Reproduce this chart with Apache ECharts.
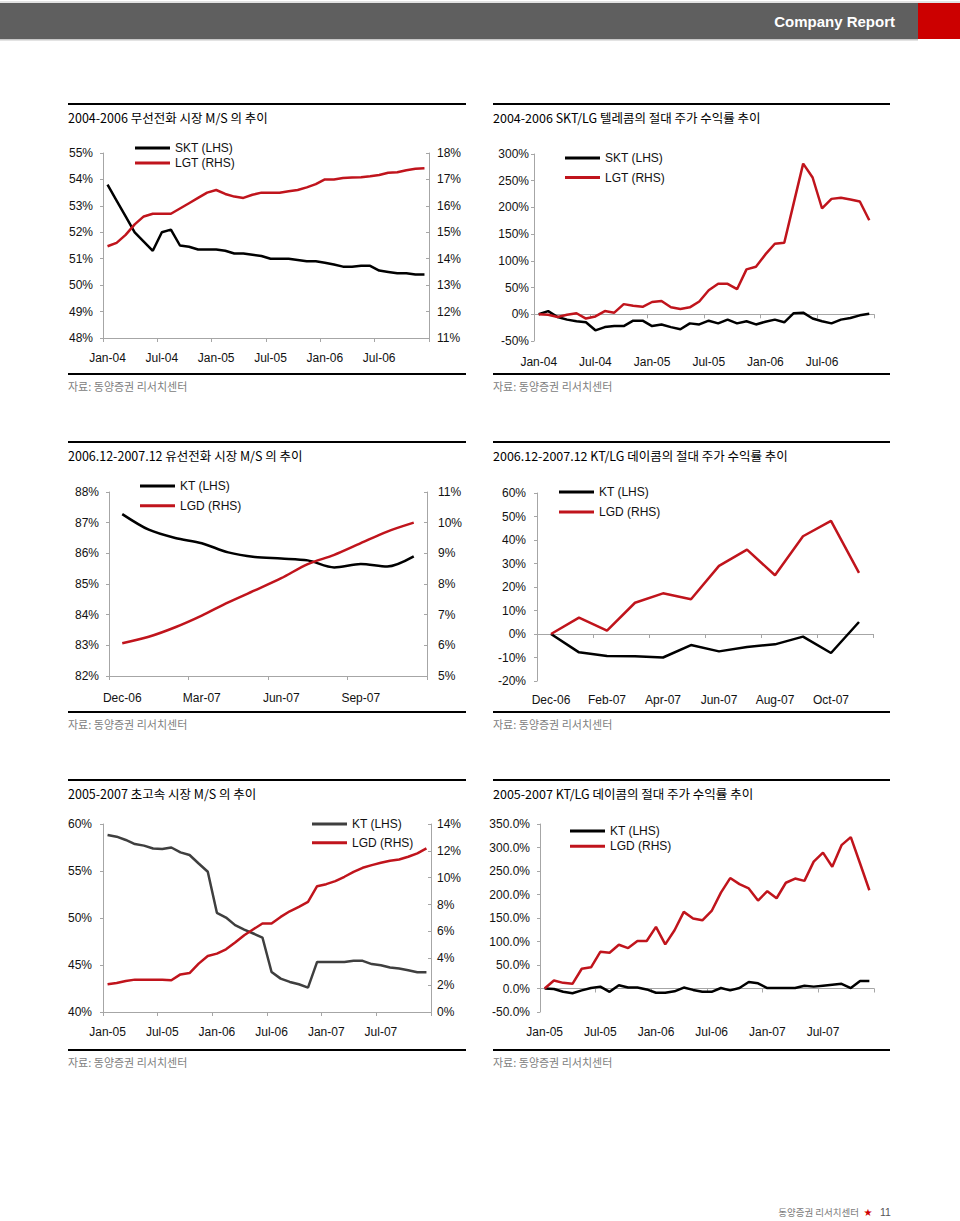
<!DOCTYPE html>
<html><head><meta charset="utf-8">
<script src="https://cdn.jsdelivr.net/npm/echarts@6.0.0/dist/echarts.min.js"></script>
<style>html,body{margin:0;padding:0;background:#fff}#c{width:960px;height:1221px}</style>
</head><body><div id="c"></div>
<script>
// ---------- categories ----------
const cat0406 = ['Jan-04','Feb-04','Mar-04','Apr-04','May-04','Jun-04','Jul-04','Aug-04','Sep-04','Oct-04','Nov-04','Dec-04',
 'Jan-05','Feb-05','Mar-05','Apr-05','May-05','Jun-05','Jul-05','Aug-05','Sep-05','Oct-05','Nov-05','Dec-05',
 'Jan-06','Feb-06','Mar-06','Apr-06','May-06','Jun-06','Jul-06','Aug-06','Sep-06','Oct-06','Nov-06','Dec-06'];
const cat0607 = ['Dec-06','Jan-07','Feb-07','Mar-07','Apr-07','May-07','Jun-07','Jul-07','Aug-07','Sep-07','Oct-07','Nov-07'];
const cat0507 = ['Jan-05','Feb-05','Mar-05','Apr-05','May-05','Jun-05','Jul-05','Aug-05','Sep-05','Oct-05','Nov-05','Dec-05',
 'Jan-06','Feb-06','Mar-06','Apr-06','May-06','Jun-06','Jul-06','Aug-06','Sep-06','Oct-06','Nov-06','Dec-06',
 'Jan-07','Feb-07','Mar-07','Apr-07','May-07','Jun-07','Jul-07','Aug-07','Sep-07','Oct-07','Nov-07','Dec-07'];

// ---------- series values ----------
// Chart 1: wireless market share (%)
const skt1 = [53.8,53.2,52.6,52.0,51.65,51.3,52.0,52.1,51.5,51.45,51.35,51.35,51.35,51.3,51.2,51.2,51.15,51.1,51.0,51.0,51.0,50.95,50.9,50.9,50.85,50.78,50.7,50.7,50.73,50.73,50.55,50.5,50.45,50.45,50.4,50.4];
const lgt1 = [14.47,14.6,14.9,15.3,15.6,15.7,15.7,15.7,15.9,16.1,16.3,16.5,16.6,16.45,16.35,16.3,16.42,16.5,16.5,16.5,16.55,16.6,16.7,16.82,17.0,17.0,17.05,17.07,17.08,17.12,17.17,17.25,17.27,17.35,17.4,17.42];
// Chart 2: absolute stock return (%)
const skt2 = [0,6,-5,-10,-13,-15,-30,-24,-22,-22,-12,-12,-22,-19,-24,-28,-17,-19,-12,-17,-10,-17,-13,-19,-14,-10,-15,2,3,-8,-13,-17,-10,-7,-2,1];
const lgt2 = [0,-1,-5,-1,2,-8,-4,6,3,19,16,14,23,25,13,10,13,24,45,57,57,47,84,89,112,132,134,208,282,256,198,216,218,215,211,176];
// Chart 3: fixed-line market share (%)
const kt3 = [87.28,86.77,86.5,86.33,86.03,85.88,85.83,85.77,85.54,85.65,85.57,85.9];
const lgd3 = [6.07,6.28,6.59,6.97,7.4,7.79,8.19,8.65,8.95,9.33,9.71,10.0];
// Chart 4: absolute stock return (%)
const kt4 = [0,-7.8,-9.4,-9.5,-10,-4.7,-7.4,-5.5,-4.4,-1.1,-8.1,5.1];
const lgd4 = [0,7,1.4,13.3,17.3,14.8,29,35.9,25,41.6,48.1,26];
// Chart 5: broadband market share (%)
const kt5 = [58.83,58.65,58.3,57.87,57.7,57.4,57.34,57.5,56.98,56.7,55.8,54.92,50.55,50.05,49.24,48.77,48.35,47.92,44.26,43.55,43.2,42.95,42.6,45.33,45.33,45.33,45.33,45.44,45.44,45.1,44.97,44.73,44.62,44.44,44.23,44.23];
const lgd5 = [2.06,2.16,2.31,2.41,2.41,2.41,2.41,2.36,2.8,2.9,3.6,4.17,4.35,4.67,5.17,5.72,6.16,6.59,6.59,7.08,7.5,7.83,8.2,9.37,9.52,9.75,10.07,10.44,10.74,10.94,11.11,11.26,11.36,11.56,11.81,12.18];
// Chart 6: absolute stock return (%)
const kt6 = [0,-1,-7,-10,-4,1,4,-7,7,2,2,-2,-9,-9,-6,2,-3,-7,-7,1,-4,1,14,11,1,1,1,1,6,4,6,8,10,1,16,16];
const lgd6 = [0,17,12,10,42,45,78,76,93,86,101,101,131,94,124,163,149,145,165,204,235,222,213,187,207,192,225,234,229,270,289,259,305,322,266,209];

// ---------- text ----------
const titles = ['2004-2006 무선전화 시장 M/S 의 추이','2004-2006 SKT/LG 텔레콤의 절대 주가 수익률 추이',
 '2006.12-2007.12 유선전화 시장 M/S 의 추이','2006.12-2007.12 KT/LG 데이콤의 절대 주가 수익률 추이',
 '2005-2007 초고속 시장 M/S 의 추이','2005-2007 KT/LG 데이콤의 절대 주가 수익률 추이'];
const sourceText = '자료: 동양증권 리서치센터';

// ---------- styling ----------
const FONT = '"Liberation Sans",Arial,sans-serif';
const KFONT = '"Noto Sans CJK KR","Noto Sans",sans-serif';
const RED = '#c0141c', BLACK = '#000000', DGRAY = '#3f3f3f', AX = '#a6a6a6';

const pct = v => v + '%';
const pct1 = v => v.toFixed(1) + '%';

function xCat(gi, data, interval, margin) {
  return {type:'category', gridIndex:gi, data:data, boundaryGap:true,
    axisLine:{show:true, onZero:true, lineStyle:{color:AX, width:1}},
    axisTick:{show:true, interval:interval, length:4, lineStyle:{color:AX}},
    axisLabel:{interval:interval, margin:margin, fontSize:12, fontFamily:FONT, color:'#111'},
    splitLine:{show:false}};
}
function yVal(gi, pos, min, max, step, margin, fmt) {
  return {type:'value', gridIndex:gi, position:pos, min:min, max:max, interval:step,
    axisLine:{show:true, onZero:false, lineStyle:{color:AX, width:1}},
    axisTick:{show:true, inside:pos === 'right', length:3, lineStyle:{color:AX}},
    axisLabel:{margin:margin, fontSize:12, fontFamily:FONT, color:'#111', formatter:fmt},
    splitLine:{show:false}};
}
function ser(name, data, color, xi, yi, smooth) {
  return {type:'line', name:name, data:data, xAxisIndex:xi, yAxisIndex:yi, symbol:'none',
    smooth:smooth || false, lineStyle:{color:color, width:2.5}, itemStyle:{color:color}, animation:false};
}
function leg(left, top, gap, items) {
  return {orient:'vertical', left:left, top:top, padding:0, itemGap:gap, itemWidth:35, itemHeight:3,
    icon:'rect', selectedMode:false,
    textStyle:{fontSize:12, fontFamily:FONT, color:'#111'},
    data:items.map(it => ({name:it[0], itemStyle:{color:it[1]}}))};
}

const grids = [
  {left:103, top:153, width:326, height:185},
  {left:534, top:154, width:340, height:187},
  {left:109, top:492, width:318, height:184},
  {left:537, top:493, width:336, height:188},
  {left:103, top:824, width:328, height:188},
  {left:540, top:824, width:334, height:188}
];

const xAxes = [
  xCat(0, cat0406, 5, 14),
  xCat(1, cat0406, 5, 15),
  xCat(2, cat0607, 2, 16),
  xCat(3, cat0607, 1, 13),
  xCat(4, cat0507, 5, 14),
  xCat(5, cat0507, 5, 14)
];
const yAxes = [
  yVal(0, 'left', 48, 55, 1, 10, pct),      // 0
  yVal(0, 'right', 11, 18, 1, 8, pct),      // 1
  yVal(1, 'left', -50, 300, 50, 5, pct),    // 2
  yVal(2, 'left', 82, 88, 1, 10, pct),      // 3
  yVal(2, 'right', 5, 11, 1, 11, pct),      // 4
  yVal(3, 'left', -20, 60, 10, 11, pct),    // 5
  yVal(4, 'left', 40, 60, 5, 11, pct),      // 6
  yVal(4, 'right', 0, 14, 2, 6, pct),       // 7
  yVal(5, 'left', -50, 350, 50, 10, pct1)   // 8
];

const series = [
  ser('SKT (LHS)', skt1, BLACK, 0, 0),
  ser('LGT (RHS)', lgt1, RED, 0, 1),
  ser('SKT (LHS)', skt2, BLACK, 1, 2),
  ser('LGT (RHS)', lgt2, RED, 1, 2),
  ser('KT (LHS)', kt3, BLACK, 2, 3, 0.3),
  ser('LGD (RHS)', lgd3, RED, 2, 4, 0.3),
  ser('KT (LHS)', kt4, BLACK, 3, 5),
  ser('LGD (RHS)', lgd4, RED, 3, 5),
  ser('KT (LHS)', kt5, DGRAY, 4, 6),
  ser('LGD (RHS)', lgd5, RED, 4, 7),
  ser('KT (LHS)', kt6, BLACK, 5, 8),
  ser('LGD (RHS)', lgd6, RED, 5, 8)
];

const legends = [
  leg(135, 142, 3, [['SKT (LHS)', BLACK], ['LGT (RHS)', RED]]),
  leg(565, 152, 7.5, [['SKT (LHS)', BLACK], ['LGT (RHS)', RED]]),
  leg(140, 480, 7.7, [['KT (LHS)', BLACK], ['LGD (RHS)', RED]]),
  leg(559, 486, 8, [['KT (LHS)', BLACK], ['LGD (RHS)', RED]]),
  leg(312, 818, 6.7, [['KT (LHS)', DGRAY], ['LGD (RHS)', RED]]),
  leg(570, 825, 3.3, [['KT (LHS)', BLACK], ['LGD (RHS)', RED]])
];

// ---------- page furniture ----------
const panelX = [[68, 466], [493, 890]];
const rowTop = [104, 442, 780];
const rowBottom = [374, 712, 1050];
const g = [];
g.push({type:'rect', shape:{x:0, y:1.5, width:960, height:1}, style:{fill:'#c8c8c8'}});
g.push({type:'rect', shape:{x:0, y:3, width:918, height:36}, style:{fill:'#5f5f5f'}});
g.push({type:'rect', shape:{x:918, y:3, width:42, height:36}, style:{fill:'#cc0000'}});
g.push({type:'rect', shape:{x:0, y:39, width:918, height:1.5}, style:{fill:'#c8c8c8'}});
g.push({type:'text', x:895, y:21, style:{text:'Company Report', fill:'#ffffff', font:'bold 15px "Liberation Sans",Arial,sans-serif', align:'right', verticalAlign:'middle'}});
for (let r = 0; r < 3; r++) {
  for (let c = 0; c < 2; c++) {
    const x1 = panelX[c][0], x2 = panelX[c][1];
    g.push({type:'line', shape:{x1:x1, y1:rowTop[r], x2:x2, y2:rowTop[r]}, style:{stroke:'#000', lineWidth:2}});
    g.push({type:'text', x:x1, y:rowTop[r] + 13, style:{text:titles[r * 2 + c], fill:'#000', font:'12.5px ' + KFONT, align:'left', verticalAlign:'middle'}});
    g.push({type:'line', shape:{x1:x1, y1:rowBottom[r], x2:x2, y2:rowBottom[r]}, style:{stroke:'#000', lineWidth:2}});
    g.push({type:'text', x:x1, y:rowBottom[r] + 12, style:{text:sourceText, fill:'#808080', font:'11px ' + KFONT, align:'left', verticalAlign:'middle'}});
  }
}
g.push({type:'text', x:859, y:1212, style:{text:'동양증권 리서치센터', fill:'#7a7a7a', font:'9.5px ' + KFONT, align:'right', verticalAlign:'middle'}});
g.push({type:'text', x:868, y:1212, style:{text:'★', fill:'#d00000', font:'10px "DejaVu Sans",sans-serif', align:'center', verticalAlign:'middle'}});
g.push({type:'text', x:880, y:1212, style:{text:'11', fill:'#555', font:'10.5px "Liberation Sans",Arial,sans-serif', align:'left', verticalAlign:'middle'}});

const chart = echarts.init(document.getElementById('c'), null, {renderer:'svg', width:960, height:1221});
chart.setOption({
  animation:false,
  backgroundColor:'#ffffff',
  grid:grids,
  xAxis:xAxes,
  yAxis:yAxes,
  legend:legends,
  series:series,
  graphic:{elements:g}
});
</script></body></html>
